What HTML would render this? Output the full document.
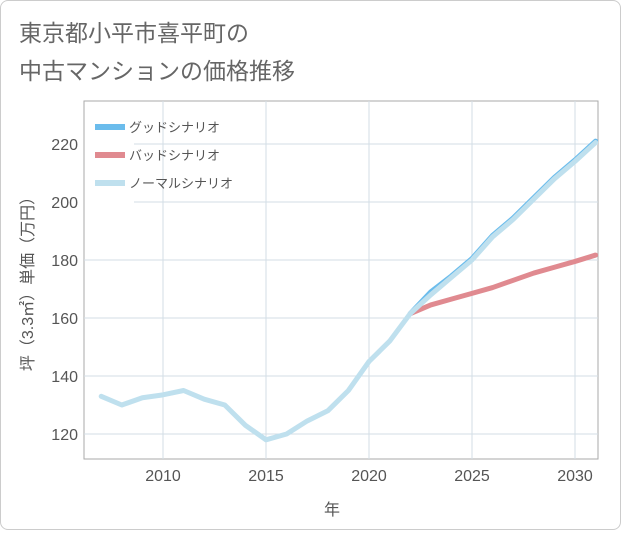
<!DOCTYPE html>
<html><head><meta charset="utf-8"><style>
html,body{margin:0;padding:0;background:#fff;}
.card{position:absolute;left:0;top:0;width:619px;height:528px;border:1px solid #ccc;border-radius:8px;background:#fff;}
text{font-family:"Liberation Sans","Noto Sans CJK JP",sans-serif;}
</style></head><body>
<div class="card">
<svg id="chart" width="621" height="530">
<text x="18" y="40" font-size="23" fill="#666">東京都小平市喜平町の</text>
<text x="18" y="78" font-size="23" fill="#666">中古マンションの価格推移</text>
<g id="grid"></g><g id="series"></g><g id="legend"></g>
<text x="331" y="514" font-size="16" fill="#555" text-anchor="middle">年</text>
<text transform="translate(32,279) rotate(-90)" font-size="16" fill="#555" text-anchor="middle">坪（3.3㎡）単価（万円）</text>
</svg></div>
<script>
const years=[2007,2008,2009,2010,2011,2012,2013,2014,2015,2016,2017,2018,2019,2020,2021,2022,2023,2024,2025,2026,2027,2028,2029,2030,2031];
const normal=[133,130,132.5,133.5,135,132,130,123,118,120,124.5,128,135,145,152,161.5,168,174,180,188,194,201,208,214,220.5];
const goodYears=[2022,2023,2024,2025,2026,2027,2028,2029,2030,2031];
const good=[161.5,169,174.5,180.5,188.5,194.5,201.5,208.5,214.5,221];
const badYears=[2022,2023,2024,2025,2026,2027,2028,2029,2030,2031];
const bad=[161.5,164.5,166.5,168.5,170.5,173,175.5,177.5,179.5,181.7];
const xTicks=[2010,2015,2020,2025,2030];
const yTicks=[120,140,160,180,200,220];
const L=83,R=597,T=100,B=458;
const x=v=>162+(v-2010)*20.6;
const y=v=>433-(v-120)*2.9;
const NS="http://www.w3.org/2000/svg";
function mk(p,tag,a){const e=document.createElementNS(NS,tag);for(const k in a)e.setAttribute(k,a[k]);p.appendChild(e);return e;}
const grid=document.getElementById('grid');
const bg=mk(grid,'rect',{x:L,y:T,width:R-L,height:B-T,fill:'#fff',stroke:'#aaa'});


const lb=mk(grid,'rect',{x:84,y:108,width:49,height:92,fill:'#fff'});


xTicks.forEach(t=>{
 const l=mk(grid,'line',{x1:x(t),x2:x(t),y1:T,y2:B,stroke:'#d3dde6'});
 
 
 const s=mk(grid,'text',{x:x(t),y:B+22,'font-size':16,fill:'#555','text-anchor':'middle'});
 s.textContent=t;
 
 
});
yTicks.forEach(t=>{
 const l=mk(grid,'line',{x1:(t===200||t===220)?133:L,x2:R,y1:y(t),y2:y(t),stroke:'#d3dde6'});
 
 
 const s=mk(grid,'text',{x:L-6,y:y(t)+6,'font-size':16,fill:'#555','text-anchor':'end'});
 s.textContent=t;
 
 
});
const ser=document.getElementById('series');
function line(xs,vs,color,name){
 const p=mk(ser,'polyline',{points:xs.map((v,i)=>x(v)+','+y(vs[i])).join(' '),fill:'none',stroke:color,'stroke-width':5,'stroke-linejoin':'round','stroke-linecap':'round'});
 
 
}
line(badYears,bad,'#e08a90','bad-scenario-line');
line(goodYears,good,'#6bbcec','good-scenario-line');
line(years,normal,'#bfe0ee','normal-scenario-line');
const lg=document.getElementById('legend');
[['グッドシナリオ','#6bbcec'],['バッドシナリオ','#e08a90'],['ノーマルシナリオ','#bfe0ee']].forEach((d,i)=>{
 const yy=126+i*28;
 const g=mk(lg,'g',{});
 
 
 mk(g,'rect',{x:94,y:yy-3,width:30,height:6,fill:d[1]});
 const t=mk(g,'text',{x:128,y:yy+5,'font-size':13,fill:'#555'});
 t.textContent=d[0];
});
</script>
</body></html>
